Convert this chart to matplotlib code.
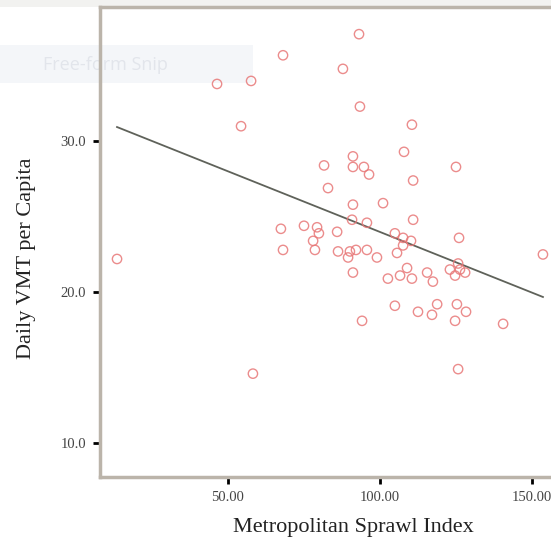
"""
    Scatter of daily VMT per capita against the metropolitan sprawl index,
    with the fitted regression line
"""

import matplotlib
matplotlib.use("Agg")
import matplotlib.pyplot as plt
from matplotlib.patches import Rectangle
import numpy as np

# sprawl index (x) and daily VMT per capita (y)
sprawl = [93.1, 68.1, 87.8, 46.4, 57.6, 93.4, 54.3, 110.5,
          107.9, 91.1, 91.1, 94.7, 96.4, 81.6, 125.0, 110.9, 82.9, 91.1, 101.0, 110.9,
          67.4, 75.0, 79.3, 79.9, 85.9, 78.0, 90.8, 95.7, 104.9, 107.6, 110.2, 126.0, 107.6,
          68.1, 78.6, 86.2, 90.1, 92.1, 95.7, 99.0, 105.6, 153.6, 13.5, 89.5,
          91.1, 102.6, 106.6, 108.9, 110.5, 115.5, 117.4, 123.0, 126.3, 124.7, 128.0, 125.7,
          104.9, 112.5, 117.1, 118.8, 125.3, 128.3, 124.7, 94.1, 140.5,
          125.7, 58.2]
vmt = [37.1, 35.7, 34.8, 33.8, 34.0, 32.3, 31.0, 31.1,
       29.3, 29.0, 28.3, 28.3, 27.8, 28.4, 28.3, 27.4, 26.9, 25.8, 25.9, 24.8,
       24.2, 24.4, 24.3, 23.9, 24.0, 23.4, 24.8, 24.6, 23.9, 23.6, 23.4, 23.6, 23.1,
       22.8, 22.8, 22.7, 22.7, 22.8, 22.8, 22.3, 22.6, 22.5, 22.2, 22.3,
       21.3, 20.9, 21.1, 21.6, 20.9, 21.3, 20.7, 21.5, 21.5, 21.1, 21.3, 21.9,
       19.1, 18.7, 18.5, 19.2, 19.2, 18.7, 18.1, 18.1, 17.9,
       14.9, 14.6]

# fitted line as drawn in the picture
fit_intercept = 32.03
fit_slope = -0.0804

x_ticks = [50, 100, 150]
y_ticks = [10, 20, 30]

W, H = 551, 543
fig = plt.figure(figsize=(W / 100, H / 100), dpi=100)
fig.patch.set_facecolor("white")

# screenshot leftovers: grey strip on top and the snipping tool banner
fig.patches.append(Rectangle((0, 1 - 7 / H), 1, 7 / H, transform=fig.transFigure,
                             facecolor="#f2f2f0", edgecolor="none", zorder=-2))
fig.patches.append(Rectangle((0, 1 - 83 / H), 253 / W, 38 / H, transform=fig.transFigure,
                             facecolor="#f4f6f9", edgecolor="none", zorder=-2))
fig.text(43 / W, 1 - 65 / H, "Free-form Snip", family="Open Sans", fontsize=13,
         color="#e2e5eb", va="center", ha="left", zorder=-1)

ax = fig.add_axes([100 / W, 66 / H, 477.6 / W, 470 / H])
ax.set_facecolor("none")

ax.scatter(sprawl, vmt, s=45, facecolors="none", edgecolors="#e87878",
           linewidths=1.0, alpha=0.85, zorder=3)

xs = np.array([min(sprawl), max(sprawl)])
ax.plot(xs, fit_intercept + fit_slope * xs, color="#5f625a", lw=1.3, zorder=2)

ax.set_xlim(7.9, 165)
ax.set_ylim(7.75, 38.9)
ax.set_xticks(x_ticks)
ax.set_xticklabels(["{:.2f}".format(v) for v in x_ticks])
ax.set_yticks(y_ticks)
ax.set_yticklabels(["{:.1f}".format(v) for v in y_ticks])

for side in ["left", "bottom", "top"]:
    ax.spines[side].set_color("#bbb4aa")
    ax.spines[side].set_linewidth(2.5)
ax.spines["right"].set_visible(False)

ax.tick_params(direction="out", length=5, width=2, color="black",
               labelsize=10.5, labelcolor="#444444", pad=5)
for lab in ax.get_xticklabels() + ax.get_yticklabels():
    lab.set_family("Liberation Serif")

ax.set_xlabel("Metropolitan Sprawl Index", family="Liberation Serif",
              fontsize=16, color="#222222")
ax.set_ylabel("Daily VMT per Capita", family="Liberation Serif",
              fontsize=16, color="#222222")
ax.xaxis.set_label_coords(0.53, -0.087)
ax.yaxis.set_label_coords(-0.134, 0.466)

fig.savefig("out.png", dpi=100)
